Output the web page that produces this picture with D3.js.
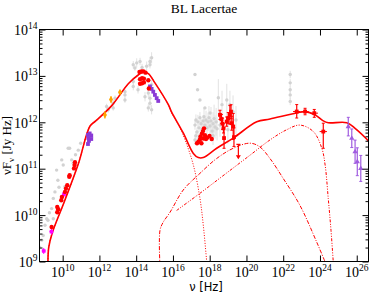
<!DOCTYPE html>
<html>
<head>
<meta charset="utf-8">
<script src="https://cdn.jsdelivr.net/npm/d3@7"></script>
<style>
  body { margin: 0; background: #fff; }
</style>
</head>
<body>
<div id="chart"></div>
<script>
// all values are log10(nu [Hz]) and log10(nuFnu [Jy Hz])

// archival data (grey), err in dex (0 = no bar)
const grayNu = [8.75, 8.86, 8.94, 9.04, 9.13, 9.20, 9.28, 9.40, 9.49, 9.49, 9.58, 9.67, 9.74, 9.80, 9.95, 10.03, 10.12, 10.30, 10.38, 10.49, 10.58, 10.70, 10.85, 10.98,
  12.39, 12.48, 12.75, 12.75, 12.85, 13.12, 13.39, 13.39, 13.39,
  13.84, 13.93, 14.03, 14.21, 14.57, 14.75, 14.75, 14.84, 14.66, 14.75, 14.75, 14.66, 14.84, 13.84, 13.84, 14.48, 14.84, 14.10, 14.32,
  17.20, 17.34, 17.47, 17.74, 18.02,
  17.20, 17.25, 17.31, 17.36, 17.42, 17.47, 17.53, 17.58, 17.64, 17.69, 17.74, 17.80, 17.85, 17.91, 17.96, 18.02, 18.07, 18.13, 18.18, 18.24, 18.29, 18.35, 18.40, 17.25, 17.42, 17.20, 18.18,
  18.47, 18.67, 18.93, 19.10, 19.27, 19.43, 18.56, 18.99,
  22.38, 22.38, 22.38, 22.38, 22.38];
const grayF = [9.31, 9.46, 9.56, 9.78, 9.92, 9.89, 10.05, 10.14, 10.36, 9.92, 10.50, 10.97, 10.75, 10.60, 11.19, 11.08, 10.61, 11.44, 11.44, 11.19, 11.12, 11.30, 11.40, 11.55,
  12.34, 12.27, 12.41, 12.31, 12.52, 12.63, 12.59, 12.48, 12.66,
  13.24, 13.17, 13.28, 13.31, 13.21, 13.24, 13.31, 13.39, 12.63, 12.52, 12.41, 12.31, 12.27, 12.88, 12.77, 12.55, 12.81, 12.70, 13.18,
  13.03, 12.70, 12.48, 12.31, 12.20,
  11.94, 12.05, 11.79, 12.01, 11.88, 12.10, 11.97, 11.84, 12.03, 12.12, 11.94, 12.05, 11.88, 12.01, 12.10, 11.92, 12.03, 11.81, 11.97, 12.08, 11.90, 12.01, 11.86, 11.71, 11.66, 11.62, 11.71,
  12.53, 12.38, 12.48, 12.38, 12.23, 12.05, 11.94, 11.84,
  13.03, 12.85, 12.70, 12.59, 12.45];
const grayErr = [0, 0, 0, 0, 0, 0, 0, 0, 0, 0, 0, 0, 0, 0, 0, 0, 0, 0, 0, 0, 0, 0, 0, 0,
  0.06, 0.06, 0.08, 0.06, 0.06, 0.05, 0.06, 0.06, 0.05,
  0.08, 0.06, 0.1, 0.08, 0.1, 0.08, 0.1, 0.12, 0.1, 0.08, 0.1, 0.08, 0.1, 0.08, 0.08, 0.1, 0.1, 0.08, 0.08,
  0, 0, 0, 0, 0,
  0.1, 0.12, 0.1, 0.15, 0.1, 0.12, 0.1, 0.15, 0.12, 0.2, 0.15, 0.2, 0.15, 0.2, 0.25, 0.2, 0.3, 0.2, 0.25, 0.3, 0.25, 0.3, 0.25, 0.1, 0.1, 0.1, 0.2,
  0.4, 0.3, 0.35, 0.3, 0.35, 0.3, 0.25, 0.3,
  0.08, 0.08, 0.08, 0.1, 0.08];

// simultaneous data (red)
const redNu = [9.40, 9.706, 9.706, 9.76, 9.924, 9.96, 10.125, 10.18, 10.25, 10.36, 10.38, 10.615, 10.65, 10.67,
  14.18, 14.29, 14.40, 14.51, 14.21, 14.32, 14.42, 14.21, 14.32, 14.42, 14.66, 14.69,
  17.31, 17.39, 17.47, 17.50, 17.58, 17.635, 17.69, 17.66, 17.74, 17.80, 17.88, 17.99, 18.11, 17.55];
const redF = [9.742, 10.175, 10.06, 10.125, 10.32, 10.39, 10.50, 10.574, 10.645, 10.825, 10.86, 11.006, 11.078, 11.14,
  13.084, 13.097, 13.097, 13.07, 12.93, 12.95, 12.94, 12.83, 12.84, 12.86, 12.907, 12.73,
  11.548, 11.582, 11.63, 11.695, 11.76, 11.81, 11.87, 11.65, 11.72, 11.64, 11.67, 11.706, 11.64, 11.55];

// red points with error bars (hard X-ray, gamma)
const redErrNu = [18.56, 18.64, 18.70, 18.75, 18.78, 18.925, 19.01, 19.10, 19.16, 19.20, 19.28, 19.32, 22.735, 23.19, 23.69, 24.18];
const redErrF = [12.16, 12.07, 11.97, 11.87, 11.66, 12.015, 12.09, 12.16, 12.23, 11.98, 11.91, 11.68, 12.232, 12.232, 12.197, 11.80];
const redErrLo = [0.1, 0.1, 0.12, 0.1, 0.22, 0.1, 0.12, 0.2, 0.15, 0.15, 0.28, 0.2, 0.14, 0.07, 0.09, 0.36];
const redErrHi = [0.1, 0.1, 0.12, 0.1, 0.22, 0.1, 0.12, 0.2, 0.15, 0.15, 0.28, 0.2, 0.15, 0.07, 0.08, 0.18];
const redErrDx = [0, 0, 0, 0, 0, 0, 0, 0, 0, 0, 0, 0, 0.2, 0.2, 0.2, 0.2];
const redLimit = [19.56, 11.526];

// other bands
const purpleNu = [11.377, 11.377, 11.47, 11.556, 11.556, 11.43, 11.40, 14.751, 14.84, 14.93, 15.02, 15.115, 15.20];
const purpleF = [11.727, 11.532, 11.76, 11.716, 11.64, 11.60, 11.66, 12.773, 12.72, 12.66, 12.59, 12.52, 12.46];
const magentaNu = [8.97, 9.39, 10.07];
const magentaF = [9.227, 9.643, 10.45];
const orangeNu = [12.30, 12.63, 13.12];
const orangeF = [12.16, 12.49, 12.65];
const orangeErr = [0.08, 0.07, 0.03];
const tevNu = [25.54, 25.73, 25.91, 26.03, 26.22];
const tevF = [11.907, 11.656, 11.366, 11.15, 11.006];
const tevErr = [0.2, 0.2, 0.25, 0.3, 0.28];

// model curves
const totNu = [9.20, 9.24, 9.42, 10.1, 10.85, 11.49, 11.8, 12.67, 13.57, 14.11, 14.39, 14.66, 15.02, 15.75, 15.93, 16.56, 17.11, 17.38, 17.65, 18.38, 19.28, 20.56, 21.28, 22.73, 23.19, 23.73, 24.18, 24.45, 25.46, 25.91, 26.64];
const totF = [9.0, 9.3, 9.6, 10.3, 11.1, 11.92, 12.03, 12.36, 12.83, 13.02, 13.08, 13.05, 12.85, 12.38, 12.22, 11.77, 11.33, 11.24, 11.24, 11.44, 11.66, 12.01, 12.07, 12.20, 12.23, 12.16, 12.03, 11.99, 11.99, 11.87, 11.60];
const synNu = [9.20, 9.24, 9.42, 10.1, 10.85, 11.49, 11.8, 12.67, 13.57, 14.11, 14.39, 14.66, 15.02, 15.75, 15.93, 16.3, 16.66, 17.11, 17.47, 17.66, 17.84];
const synF = [9.0, 9.3, 9.6, 10.3, 11.1, 11.92, 12.03, 12.36, 12.83, 13.02, 13.08, 13.05, 12.85, 12.38, 12.2, 11.95, 11.62, 11.08, 10.36, 9.75, 8.98];
const sscNu = [15.295, 15.295, 15.46, 15.84, 16.56, 17.47, 18.38, 19.28, 20.19, 20.73, 21.28, 22.0, 22.91, 23.82, 24.27];
const sscF = [8.9, 9.67, 9.84, 10.06, 10.54, 10.90, 11.22, 11.44, 11.55, 11.47, 11.22, 10.79, 10.21, 9.42, 9.0];
const ecNu = [16.20, 17.47, 18.83, 20.19, 21.28, 22.19, 22.91, 23.64, 24.10, 24.28, 24.45, 24.60, 24.73];
const ecF = [10.10, 10.47, 10.88, 11.29, 11.62, 11.84, 11.94, 11.80, 11.44, 11.08, 10.36, 9.67, 8.95];

const xMajor = [10, 12, 14, 16, 18, 20, 22, 24, 26];
const yMajor = [9, 10, 11, 12, 13, 14];

const W = 371, H = 293;
const margin = {top: 29.5, left: 39.5, right: 2.5, bottom: 31.5};
const w = W - margin.left - margin.right,
  h = H - margin.top - margin.bottom;
const p = v => Math.pow(10, v);
const serif = "'Liberation Serif', 'Times New Roman', serif";

const svg = d3.select("#chart").append("svg")
  .attr("width", W)
  .attr("height", H);

const g = svg.append("g")
  .attr("transform", "translate(" + margin.left + "," + margin.top + ")");

const x = d3.scaleLog().domain([p(8.74), p(26.64)]).range([0, w]);
const y = d3.scaleLog().domain([p(9), p(14)]).range([h, 0]);

svg.append("defs").append("clipPath").attr("id", "clip")
  .append("rect").attr("width", w).attr("height", h);

const plot = g.append("g").attr("clip-path", "url(#clip)");

const zip = (a, b) => a.map((v, i) => [v, b[i]]);

// grey archival points
const grayPts = grayNu.map((v, i) => ({nu: v, f: grayF[i], e: grayErr[i]}));
plot.selectAll(".gbar")
  .data(grayPts.filter(d => d.e > 0))
  .enter().append("line")
  .attr("x1", d => x(p(d.nu))).attr("x2", d => x(p(d.nu)))
  .attr("y1", d => y(p(d.f - d.e))).attr("y2", d => y(p(d.f + d.e)))
  .attr("stroke", "#e2e2e2").attr("stroke-width", 1);
plot.selectAll(".gpt")
  .data(grayPts)
  .enter().append("circle")
  .attr("cx", d => x(p(d.nu)))
  .attr("cy", d => y(p(d.f)))
  .attr("r", 1.7)
  .attr("fill", "#d2d2d2");

// model curves
const line = d3.line()
  .x(d => x(p(d[0])))
  .y(d => y(p(d[1])))
  .curve(d3.curveCatmullRom.alpha(0.5));

plot.append("path").datum(zip(synNu, synF))
  .attr("d", line).attr("fill", "none")
  .attr("stroke", "#ff0000").attr("stroke-width", 1)
  .attr("stroke-dasharray", "1,1.6");
plot.append("path").datum(zip(sscNu, sscF))
  .attr("d", line).attr("fill", "none")
  .attr("stroke", "#ff0000").attr("stroke-width", 1)
  .attr("stroke-dasharray", "4,1.5,1,1.5");
plot.append("path").datum(zip(ecNu, ecF))
  .attr("d", line).attr("fill", "none")
  .attr("stroke", "#ff0000").attr("stroke-width", 1)
  .attr("stroke-dasharray", "3,1.5,1,1.5,1,1.5");
plot.append("path").datum(zip(totNu, totF))
  .attr("d", line).attr("fill", "none")
  .attr("stroke", "#ff0000").attr("stroke-width", 1.6);

// magenta
magentaNu.forEach((v, i) => {
  const cx = x(p(v)), cy = y(p(magentaF[i]));
  plot.append("line").attr("x1", cx).attr("x2", cx)
    .attr("y1", cy - 3).attr("y2", cy + 3).attr("stroke", "#ff00ff");
  plot.append("line").attr("x1", cx - 2).attr("x2", cx + 2)
    .attr("y1", cy).attr("y2", cy).attr("stroke", "#ff00ff");
  plot.append("rect").attr("x", cx - 1.8).attr("y", cy - 1.8)
    .attr("width", 3.6).attr("height", 3.6).attr("fill", "#ff00ff");
});

// orange
orangeNu.forEach((v, i) => {
  const cx = x(p(v)), cy = y(p(orangeF[i]));
  plot.append("line").attr("x1", cx).attr("x2", cx)
    .attr("y1", y(p(orangeF[i] - orangeErr[i]))).attr("y2", y(p(orangeF[i] + orangeErr[i])))
    .attr("stroke", "#ffa500").attr("stroke-width", 1.2);
  plot.append("path")
    .attr("d", d3.symbol(d3.symbolDiamond, 14)())
    .attr("transform", "translate(" + cx + "," + cy + ")")
    .attr("fill", "#ffa500");
});

// purple
plot.selectAll(".ppt")
  .data(zip(purpleNu, purpleF))
  .enter().append("rect")
  .attr("x", d => x(p(d[0])) - 1.9)
  .attr("y", d => y(p(d[1])) - 1.9)
  .attr("width", 3.8).attr("height", 3.8)
  .attr("fill", "#8a3ad6");

// red simultaneous
plot.selectAll(".rpt")
  .data(zip(redNu, redF))
  .enter().append("circle")
  .attr("cx", d => x(p(d[0])))
  .attr("cy", d => y(p(d[1])))
  .attr("r", 2.2)
  .attr("fill", "#ff0000");

redErrNu.forEach((v, i) => {
  const cx = x(p(v)), cy = y(p(redErrF[i]));
  plot.append("line").attr("x1", cx).attr("x2", cx)
    .attr("y1", y(p(redErrF[i] - redErrLo[i]))).attr("y2", y(p(redErrF[i] + redErrHi[i])))
    .attr("stroke", "#ff0000").attr("stroke-width", 1.2);
  [redErrF[i] - redErrLo[i], redErrF[i] + redErrHi[i]].forEach(f => {
    plot.append("line").attr("x1", cx - 1.5).attr("x2", cx + 1.5)
      .attr("y1", y(p(f))).attr("y2", y(p(f)))
      .attr("stroke", "#ff0000").attr("stroke-width", 1);
  });
  if (redErrDx[i] > 0) {
    plot.append("line")
      .attr("x1", x(p(v - redErrDx[i]))).attr("x2", x(p(v + redErrDx[i])))
      .attr("y1", cy).attr("y2", cy)
      .attr("stroke", "#ff0000").attr("stroke-width", 1);
  }
  plot.append("rect").attr("x", cx - 1.9).attr("y", cy - 1.9)
    .attr("width", 3.8).attr("height", 3.8).attr("fill", "#ff0000");
});

// upper limit
{
  const cx = x(p(redLimit[0])), cy = y(p(redLimit[1]));
  const cy2 = y(p(redLimit[1] - 0.3));
  plot.append("line").attr("x1", cx - 2).attr("x2", cx + 2)
    .attr("y1", cy).attr("y2", cy).attr("stroke", "#ff0000").attr("stroke-width", 1.2);
  plot.append("line").attr("x1", cx).attr("x2", cx)
    .attr("y1", cy).attr("y2", cy2).attr("stroke", "#ff0000").attr("stroke-width", 1.2);
  plot.append("path")
    .attr("d", "M" + (cx - 2.5) + "," + (cy2 - 3) + "L" + (cx + 2.5) + "," + (cy2 - 3) + "L" + cx + "," + (cy2 + 1) + "Z")
    .attr("fill", "#ff0000");
}

// TeV
tevNu.forEach((v, i) => {
  const cx = x(p(v)), cy = y(p(tevF[i]));
  plot.append("line").attr("x1", cx).attr("x2", cx)
    .attr("y1", y(p(tevF[i] - tevErr[i]))).attr("y2", y(p(tevF[i] + tevErr[i])))
    .attr("stroke", "#a05ce0").attr("stroke-width", 1.2);
  [tevF[i] - tevErr[i], tevF[i] + tevErr[i]].forEach(f => {
    plot.append("line").attr("x1", cx - 1.5).attr("x2", cx + 1.5)
      .attr("y1", y(p(f))).attr("y2", y(p(f)))
      .attr("stroke", "#a05ce0");
  });
  plot.append("path")
    .attr("d", d3.symbol(d3.symbolTriangle, 12)())
    .attr("transform", "translate(" + cx + "," + cy + ")")
    .attr("fill", "#a05ce0");
});

// axes (ticks inside, on all sides)
const isMajor = d => Math.abs(Math.log10(d) - Math.round(Math.log10(d))) < 1e-6;
const yTicks = y.ticks();
const xTickVals = xMajor.map(p);

const tidy = a => {
  a.select(".domain").remove();
  a.selectAll(".tick line").attr("stroke", "#000");
};

g.append("g").attr("transform", "translate(0," + h + ")")
  .call(d3.axisBottom(x).tickValues(xTickVals).tickSize(-6).tickFormat(() => ""))
  .call(tidy);
g.append("g")
  .call(d3.axisTop(x).tickValues(xTickVals).tickSize(-6).tickFormat(() => ""))
  .call(tidy);
g.append("g")
  .call(d3.axisLeft(y).tickValues(yTicks).tickFormat(() => ""))
  .call(tidy)
  .selectAll(".tick line").attr("x2", d => isMajor(d) ? 6 : 3);
g.append("g").attr("transform", "translate(" + w + ",0)")
  .call(d3.axisRight(y).tickValues(yTicks).tickFormat(() => ""))
  .call(tidy)
  .selectAll(".tick line").attr("x2", d => isMajor(d) ? -6 : -3);

g.append("rect")
  .attr("width", w).attr("height", h)
  .attr("fill", "none").attr("stroke", "#000").attr("stroke-width", 1);

// tick labels
xMajor.forEach(e => {
  const t = g.append("text")
    .attr("x", x(p(e)))
    .attr("y", h + 15.5)
    .attr("text-anchor", "middle")
    .attr("font-family", serif)
    .attr("font-size", 14);
  t.append("tspan").text("10");
  t.append("tspan").attr("dy", -6).attr("font-size", 9.5).text(e);
});
yMajor.forEach(e => {
  const t = g.append("text")
    .attr("x", -2)
    .attr("y", y(p(e)) + 5.5)
    .attr("text-anchor", "end")
    .attr("font-family", serif)
    .attr("font-size", 14);
  t.append("tspan").text("10");
  t.append("tspan").attr("dy", -6).attr("font-size", 9.5).text(e);
});

// titles
svg.append("text")
  .attr("x", margin.left + w / 2)
  .attr("y", 13)
  .attr("text-anchor", "middle")
  .attr("font-family", serif)
  .attr("font-size", 13.5)
  .text("BL Lacertae");

svg.append("text")
  .attr("x", margin.left + w / 2 + 2)
  .attr("y", 291)
  .attr("text-anchor", "middle")
  .attr("font-family", "'DejaVu Sans', sans-serif")
  .attr("font-size", 11.5)
  .text("\u03bd [Hz]");

const yl = svg.append("text")
  .attr("transform", "translate(11," + (margin.top + h / 2) + ") rotate(-90)")
  .attr("text-anchor", "middle")
  .attr("font-family", serif)
  .attr("font-size", 13);
yl.append("tspan").text("\u03bdF");
yl.append("tspan").attr("dy", 3).attr("font-size", 9).text("\u03bd");
yl.append("tspan").attr("dy", -3).text(" [Jy Hz]");
</script>
</body>
</html>
